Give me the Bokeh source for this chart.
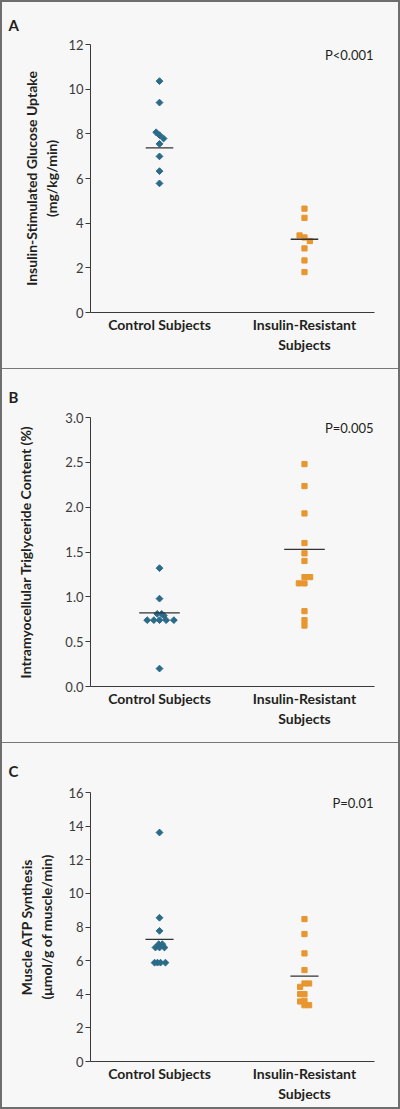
import math
from bokeh.plotting import figure
from bokeh.models import Range1d, FixedTicker, Label, Div, PrintfTickFormatter
from bokeh.layouts import column
from bokeh.embed import file_html
from bokeh.resources import INLINE

# ---------------- data ----------------
groups = ["Control Subjects", "Insulin-Resistant\nSubjects"]
group_pos = [1, 2]

# Panel A: insulin-stimulated glucose uptake (mg/kg/min)
ctrl_a = [10.36, 9.40, 8.07, 7.94, 7.79, 7.55, 6.99, 6.33, 5.78]
ctrl_a_jitter = [0, 0, -0.023, 0, 0.028, 0, 0, 0, 0]
ir_a = [4.65, 4.24, 3.45, 3.36, 3.20, 2.87, 2.33, 1.81]
ir_a_jitter = [0, 0, -0.034, 0, 0.037, 0, 0, 0]
mean_a = [7.37, 3.28]
p_a = "P<0.001"
yticks_a = [0, 2, 4, 6, 8, 10, 12]

# Panel B: intramyocellular triglyceride content (%)
ctrl_b = [1.32, 0.98, 0.81, 0.81, 0.79, 0.74, 0.74, 0.74, 0.74, 0.74, 0.20]
ctrl_b_jitter = [0, 0, -0.016, 0.015, 0.03, -0.085, -0.039, 0, 0.046, 0.099, 0]
ir_b = [2.48, 2.235, 1.93, 1.60, 1.485, 1.40, 1.22, 1.22, 1.15, 1.15, 0.84, 0.74, 0.68]
ir_b_jitter = [0, 0, 0, 0, 0, 0, 0, 0.039, -0.039, 0, 0, 0, 0]
mean_b = [0.82, 1.53]
p_b = "P=0.005"
yticks_b = [0.0, 0.5, 1.0, 1.5, 2.0, 2.5, 3.0]

# Panel C: muscle ATP synthesis (umol/g of muscle/min)
ctrl_c = [13.62, 8.55, 7.77, 6.98, 6.98, 6.78, 6.78, 6.78, 5.88, 5.88, 5.88, 5.88]
ctrl_c_jitter = [0, 0, 0, -0.005, 0.019, -0.028, 0, 0.034, -0.034, -0.014, 0.007, 0.041]
ir_c = [8.47, 7.58, 6.43, 5.44, 4.64, 4.64, 4.44, 4.01, 4.01, 3.61, 3.57, 3.35, 3.35]
ir_c_jitter = [0, 0, 0, 0, 0, 0.032, -0.030, 0, -0.030, 0, -0.030, 0, 0.032]
mean_c = [7.26, 5.08]
p_c = "P=0.01"
yticks_c = [0, 2, 4, 6, 8, 10, 12, 14, 16]

# ---------------- style ----------------
BG = "#f7f7f7"
BLUE = "#2b6b89"
ORANGE = "#e8962f"
TXT = "#231f20"
AXIS = "#3a3a3a"
FONT = "Lato"
X_START, X_END = 0.524, 2.483
W = 396


def panel(letter, ylabel, yticks, ymax, ctrl, cj, ir, ij, means, half, pval,
          height, top, bottom, standoff, title_standoff, fmt=None):
    p = figure(width=W, height=height, title=letter,
               x_range=Range1d(X_START, X_END), y_range=Range1d(0, ymax),
               output_backend="svg", toolbar_location=None,
               min_border_left=88, min_border_right=24,
               min_border_top=top, min_border_bottom=bottom,
               background_fill_color=BG, border_fill_color=BG,
               outline_line_color=None)
    p.grid.visible = False

    p.title.align = "left"
    p.title.offset = -82
    p.title.standoff = title_standoff
    p.title.text_font = FONT
    p.title.text_font_style = "bold"
    p.title.text_font_size = "15px"
    p.title.text_color = TXT

    p.scatter([group_pos[0] + j for j in cj], ctrl, marker="square",
              angle=math.pi / 4, size=4.8, fill_color=BLUE, line_color=BLUE)
    p.scatter([group_pos[1] + j for j in ij], ir, marker="square",
              size=5.2, fill_color=ORANGE, line_color=ORANGE)
    p.segment(x0=[g - half for g in group_pos], x1=[g + half for g in group_pos],
              y0=means, y1=means, line_color="#333333", line_width=1.3)

    # x axis
    xa = p.xaxis[0]
    xa.ticker = FixedTicker(ticks=group_pos)
    xa.major_label_overrides = {group_pos[0]: groups[0], group_pos[1]: groups[1]}
    xa.major_tick_line_color = None
    xa.major_tick_in = 0
    xa.major_tick_out = 0
    xa.minor_tick_line_color = None
    xa.axis_line_color = AXIS
    xa.major_label_text_font = FONT
    xa.major_label_text_font_style = "bold"
    xa.major_label_text_font_size = "14px"
    xa.major_label_text_color = TXT
    xa.major_label_standoff = 3

    # y axis
    ya = p.yaxis[0]
    ya.ticker = FixedTicker(ticks=yticks)
    if fmt:
        ya.formatter = PrintfTickFormatter(format=fmt)
    ya.major_tick_in = 0
    ya.major_tick_out = 5
    ya.minor_tick_line_color = None
    ya.axis_line_color = AXIS
    ya.major_tick_line_color = AXIS
    ya.major_label_text_font = FONT
    ya.major_label_text_font_size = "13px"
    ya.major_label_text_color = "#3a3a3a"
    ya.major_label_standoff = 2
    ya.axis_label = ylabel
    ya.axis_label_text_font = FONT
    ya.axis_label_text_font_style = "bold"
    ya.axis_label_text_font_size = "14px"
    ya.axis_label_text_color = TXT
    ya.axis_label_standoff = standoff

    p.add_layout(Label(x=X_END, y=ymax, text=pval, text_align="right",
                       text_baseline="top", x_offset=-1, y_offset=-2,
                       text_font=FONT, text_font_size="13px", text_color=TXT))
    return p


pA = panel("A", "Insulin-Stimulated Glucose Uptake\n(mg/kg/min)", yticks_a, 12,
           ctrl_a, ctrl_a_jitter, ir_a, ir_a_jitter, mean_a, 0.095, p_a,
           366, 41, 56, 5, 22)
pB = panel("B", "Intramyocellular Triglyceride Content (%)", yticks_b, 3.0,
           ctrl_b, ctrl_b_jitter, ir_b, ir_b_jitter, mean_b, 0.14, p_b,
           373, 48, 56, 28, 24, fmt="%.1f")
pC = panel("C", "Muscle ATP Synthesis\n(\u03bcmol/g of muscle/min)", yticks_c, 16,
           ctrl_c, ctrl_c_jitter, ir_c, ir_c_jitter, mean_c, 0.097, p_c,
           364, 49, 46, 10, 25)

d1 = Div(width=W, height=1, margin=0, styles={"background-color": "#777777"})
d2 = Div(width=W, height=1, margin=0, styles={"background-color": "#777777"})

layout = column(pA, d1, pB, d2, pC, spacing=0,
                styles={"border": "2px solid #6e6e6e", "background-color": BG})

open("out.html", "w").write(file_html(layout, INLINE))
